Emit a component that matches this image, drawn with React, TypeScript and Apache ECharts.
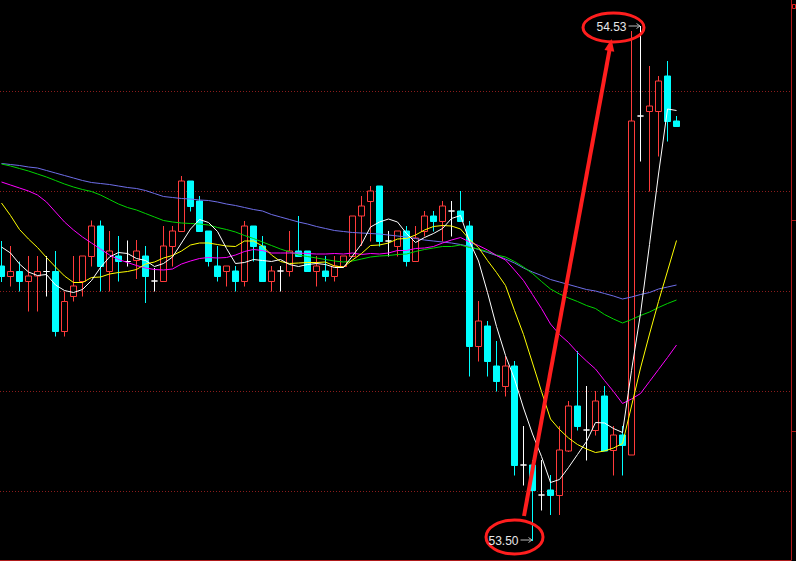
import React, { useEffect, useRef } from "react";
import * as echarts from "echarts";

// ---- data (prices) ----
const opens = [
  54.050, 54.029, 54.039, 54.019, 54.030, 54.039, 54.039, 53.919, 53.989, 54.019,
  54.069, 54.130, 54.039, 54.070, 54.059, 54.061, 54.070, 54.020, 54.019, 54.089,
  54.119, 54.220, 54.180, 54.120, 54.050, 54.039, 54.040, 54.019, 54.130, 54.090,
  54.019, 54.040, 54.039, 54.080, 54.080, 54.039, 54.040, 54.029, 54.049, 54.069,
  54.150, 54.179, 54.210, 54.100, 54.089, 54.120, 54.059, 54.119, 54.150, 54.139,
  54.160, 54.160, 54.130, 53.889, 53.930, 53.850, 53.809, 53.850, 53.652, 53.652,
  53.592, 53.602, 53.591, 53.680, 53.770, 53.722, 53.721, 53.790, 53.681, 53.712,
  53.672, 54.350, 54.359, 54.359, 54.430, 54.340,
];
const closes = [
  54.029, 54.039, 54.019, 54.030, 54.039, 54.039, 53.919, 53.979, 54.010, 54.070,
  54.130, 54.049, 54.080, 54.059, 54.059, 54.080, 54.029, 54.020, 54.090, 54.120,
  54.220, 54.169, 54.119, 54.059, 54.029, 54.050, 54.019, 54.130, 54.089, 54.019,
  54.040, 54.040, 54.080, 54.069, 54.039, 54.050, 54.029, 54.050, 54.070, 54.150,
  54.170, 54.200, 54.099, 54.100, 54.120, 54.059, 54.106, 54.150, 54.139, 54.170,
  54.160, 54.139, 53.889, 53.940, 53.859, 53.819, 53.850, 53.651, 53.652, 53.601,
  53.592, 53.591, 53.682, 53.770, 53.729, 53.722, 53.780, 53.680, 53.712, 53.691,
  54.340, 54.350, 54.370, 54.420, 54.339, 54.329,
];
const lows = [
  54.018, 54.009, 53.999, 53.959, 53.959, 53.989, 53.909, 53.909, 53.979, 53.989,
  54.049, 53.999, 53.999, 54.019, 54.049, 54.024, 53.976, 53.999, 54.019, 54.049,
  54.119, 54.159, 54.119, 54.049, 54.019, 54.009, 53.999, 54.009, 54.059, 54.019,
  53.999, 53.999, 54.029, 54.069, 54.039, 54.009, 54.019, 54.019, 54.049, 54.069,
  54.090, 54.099, 54.089, 54.069, 54.069, 54.049, 54.059, 54.109, 54.119, 54.099,
  54.109, 54.139, 53.829, 53.859, 53.829, 53.799, 53.789, 53.631, 53.611, 53.500,
  53.561, 53.552, 53.552, 53.678, 53.721, 53.661, 53.711, 53.680, 53.631, 53.631,
  53.672, 54.259, 54.199, 54.269, 54.299, 54.329,
];
const highs = [
  54.100, 54.090, 54.059, 54.070, 54.070, 54.070, 54.080, 53.999, 54.070, 54.070,
  54.141, 54.141, 54.120, 54.110, 54.101, 54.102, 54.090, 54.046, 54.130, 54.130,
  54.230, 54.220, 54.190, 54.120, 54.090, 54.050, 54.050, 54.140, 54.130, 54.110,
  54.050, 54.050, 54.120, 54.150, 54.080, 54.070, 54.070, 54.070, 54.070, 54.150,
  54.190, 54.210, 54.210, 54.120, 54.120, 54.130, 54.130, 54.160, 54.160, 54.180,
  54.180, 54.200, 54.140, 53.980, 53.940, 53.900, 53.870, 53.860, 53.730, 53.662,
  53.662, 53.632, 53.730, 53.780, 53.880, 53.810, 53.800, 53.810, 53.730, 53.730,
  54.520, 54.530, 54.450, 54.430, 54.460, 54.350,
];

const ma5 = [
  54.088, 54.076, 54.054, 54.038, 54.031, 54.033, 54.012, 54.001, 53.997, 54.003,
  54.021, 54.047, 54.068, 54.077, 54.075, 54.065, 54.061, 54.049, 54.055, 54.068,
  54.096, 54.124, 54.143, 54.137, 54.119, 54.085, 54.055, 54.057, 54.063, 54.061,
  54.059, 54.063, 54.053, 54.049, 54.053, 54.055, 54.053, 54.047, 54.047, 54.070,
  54.094, 54.128, 54.138, 54.144, 54.138, 54.115, 54.097, 54.107, 54.115, 54.125,
  54.145, 54.151, 54.099, 54.060, 53.997, 53.929, 53.871, 53.824, 53.766, 53.714,
  53.669, 53.617, 53.623, 53.647, 53.673, 53.699, 53.737, 53.736, 53.725, 53.717,
  53.841, 53.955, 54.093, 54.234, 54.364, 54.361,
];
const ma10 = [
  54.176, 54.151, 54.123, 54.104, 54.087, 54.067, 54.048, 54.030, 54.017, 54.017,
  54.027, 54.028, 54.034, 54.037, 54.039, 54.043, 54.054, 54.058, 54.066, 54.071,
  54.080, 54.092, 54.096, 54.096, 54.093, 54.090, 54.089, 54.100, 54.100, 54.090,
  54.072, 54.059, 54.055, 54.056, 54.057, 54.057, 54.058, 54.050, 54.048, 54.062,
  54.075, 54.091, 54.092, 54.096, 54.104, 54.105, 54.112, 54.122, 54.129, 54.131,
  54.130, 54.124, 54.103, 54.087, 54.061, 54.037, 54.011, 53.961, 53.913, 53.856,
  53.799, 53.744, 53.723, 53.706, 53.693, 53.684, 53.677, 53.680, 53.686, 53.695,
  53.770, 53.846, 53.914, 53.979, 54.040, 54.101,
];
const ma20 = [
  54.218, 54.212, 54.206, 54.200, 54.192, 54.178, 54.158, 54.138, 54.122, 54.108,
  54.096, 54.084, 54.072, 54.063, 54.057, 54.051, 54.046, 54.043, 54.042, 54.044,
  54.054, 54.060, 54.065, 54.067, 54.066, 54.067, 54.072, 54.079, 54.083, 54.081,
  54.076, 54.076, 54.076, 54.076, 54.075, 54.074, 54.074, 54.075, 54.074, 54.076,
  54.073, 54.075, 54.074, 54.076, 54.081, 54.081, 54.085, 54.086, 54.089, 54.096,
  54.102, 54.107, 54.098, 54.091, 54.082, 54.071, 54.062, 54.042, 54.021, 53.993,
  53.965, 53.934, 53.913, 53.897, 53.877, 53.860, 53.844, 53.821, 53.799, 53.775,
  53.784, 53.795, 53.819, 53.843, 53.867, 53.892,
];
const ma40 = [
  54.254, 54.250, 54.245, 54.240, 54.234, 54.228, 54.221, 54.214, 54.208, 54.203,
  54.199, 54.192, 54.183, 54.174, 54.167, 54.162, 54.155, 54.148, 54.141, 54.138,
  54.136, 54.135, 54.134, 54.132, 54.127, 54.123, 54.118, 54.111, 54.105, 54.098,
  54.091, 54.084, 54.078, 54.072, 54.069, 54.066, 54.063, 54.060, 54.058, 54.060,
  54.064, 54.068, 54.070, 54.071, 54.073, 54.074, 54.079, 54.083, 54.086, 54.089,
  54.089, 54.092, 54.087, 54.084, 54.079, 54.072, 54.068, 54.059, 54.048, 54.035,
  54.019, 54.004, 53.994, 53.986, 53.979, 53.971, 53.965, 53.953, 53.944, 53.936,
  53.943, 53.951, 53.958, 53.967, 53.975, 53.982,
];
const ma60 = [
  54.255, 54.253, 54.251, 54.248, 54.246, 54.241, 54.236, 54.231, 54.226, 54.221,
  54.217, 54.215, 54.213, 54.210, 54.207, 54.205, 54.201, 54.195, 54.189, 54.187,
  54.185, 54.184, 54.182, 54.181, 54.178, 54.174, 54.171, 54.167, 54.163, 54.160,
  54.153, 54.148, 54.143, 54.138, 54.134, 54.129, 54.125, 54.121, 54.119, 54.117,
  54.116, 54.115, 54.114, 54.112, 54.110, 54.108, 54.105, 54.102, 54.100, 54.098,
  54.096, 54.093, 54.089, 54.083, 54.077, 54.071, 54.064, 54.056, 54.046, 54.038,
  54.031, 54.023, 54.018, 54.013, 54.008, 54.003, 54.000, 53.995, 53.990, 53.984,
  53.988, 53.993, 53.997, 54.004, 54.008, 54.012,
];

// visible window
const xMin = -1 / 6;
const xMax = 87.72;
const yMin = 53.462;
const yMax = 54.582;

const UP = "#ff3b3b";
const DOWN = "#00ffff";
const DOJI = "#ffffff";
const FRAME = "#b01a1a";
const GRIDLINE = "#8a1c1c";
const MARK = "#ff1e1e";

export default function App() {
  const ref = useRef<HTMLDivElement>(null);

  useEffect(() => {
    if (!ref.current) return;
    const chart = echarts.init(ref.current, null, { renderer: "svg" });

    const candleData = opens.map((o, i) => {
      const item: any = { value: [i, o, closes[i], lows[i], highs[i]] };
      if (o === closes[i]) {
        item.itemStyle = {
          color: DOJI,
          color0: DOJI,
          borderColor: DOJI,
          borderColor0: DOJI,
          borderColorDoji: DOJI,
        };
      }
      return item;
    });

    const maLine = (arr: number[], color: string) => ({
      type: "line",
      data: arr.map((v, i) => [i, v]),
      showSymbol: false,
      symbol: "none",
      silent: true,
      clip: true,
      lineStyle: { color, width: 1 },
      itemStyle: { color },
    });

    chart.setOption({
      animation: false,
      backgroundColor: "#000000",
      grid: { left: 0, right: 5, top: 0, bottom: 1, containLabel: false },
      xAxis: {
        type: "value",
        min: xMin,
        max: xMax,
        axisLine: { show: true, onZero: false, lineStyle: { color: FRAME, width: 1 } },
        axisTick: { show: false },
        axisLabel: { show: false },
        splitLine: { show: false },
      },
      yAxis: {
        type: "value",
        position: "right",
        min: yMin,
        max: yMax,
        scale: true,
        axisLine: { show: true, onZero: false, lineStyle: { color: FRAME, width: 1 } },
        axisTick: { show: false },
        axisLabel: { show: false },
        splitLine: {
          show: true,
          showMinLine: false,
          showMaxLine: false,
          lineStyle: { color: GRIDLINE, type: [1, 2], width: 1 },
        },
      },
      series: [
        {
          type: "candlestick",
          data: candleData,
          encode: { x: 0, y: [1, 2, 3, 4] },
          barWidth: 6,
          clip: true,
          silent: true,
          itemStyle: {
            color: "#000000",
            color0: DOWN,
            borderColor: UP,
            borderColor0: DOWN,
            borderColorDoji: DOJI,
            borderWidth: 1,
          },
        },
        maLine(ma60, "#6e6ee8"),
        maLine(ma40, "#00d400"),
        maLine(ma20, "#ff00ff"),
        maLine(ma10, "#ffff00"),
        maLine(ma5, "#ffffff"),
      ],
    });

    // annotation anchored to the extreme candles
    const hi = Math.max(...highs);
    const lo = Math.min(...lows);
    const hiIdx = highs.indexOf(hi);
    const loIdx = lows.indexOf(lo);
    const hp = chart.convertToPixel({ gridIndex: 0 }, [hiIdx, hi]) as number[];
    const lp = chart.convertToPixel({ gridIndex: 0 }, [loIdx, lo]) as number[];

    const sx = lp[0] - 8.5, sy = lp[1] - 25;
    const tx = hp[0] - 29, ty = hp[1] + 13;
    const dx = tx - sx, dy = ty - sy;
    const len = Math.sqrt(dx * dx + dy * dy);
    const ux = dx / len, uy = dy / len;
    const px = -uy, py = ux;
    const headLen = 12, headHalf = 5;
    const bx = tx - ux * headLen, by = ty - uy * headLen;

    const smallArrow = (x: number, y: number) => [
      {
        type: "line",
        shape: { x1: x - 12, y1: y, x2: x - 0.5, y2: y },
        style: { stroke: "#b8b8b8", lineWidth: 1 },
        z: 100,
      },
      {
        type: "polyline",
        shape: { points: [[x - 4, y - 2.5], [x - 0.5, y], [x - 4, y + 2.5]] },
        style: { stroke: "#b8b8b8", lineWidth: 1, fill: "none" },
        z: 100,
      },
    ];

    chart.setOption({
      graphic: [
        // red arrow
        {
          type: "line",
          shape: { x1: sx, y1: sy, x2: bx + ux * 2, y2: by + uy * 2 },
          style: { stroke: MARK, lineWidth: 4 },
          z: 100,
        },
        {
          type: "polygon",
          shape: {
            points: [
              [tx, ty],
              [bx + px * headHalf, by + py * headHalf],
              [bx - px * headHalf, by - py * headHalf],
            ],
          },
          style: { fill: MARK },
          z: 100,
        },
        // top label
        {
          type: "ellipse",
          shape: { cx: hp[0] - 27, cy: hp[1] + 1.5, rx: 30.5, ry: 14.5 },
          style: { fill: "none", stroke: MARK, lineWidth: 3 },
          z: 100,
        },
        {
          type: "text",
          style: {
            text: hi.toFixed(2),
            x: hp[0] - 14,
            y: hp[1] + 0.5,
            align: "right",
            verticalAlign: "middle",
            fill: "#e8e8e8",
            font: "12px Arial, 'Liberation Sans', sans-serif",
          },
          z: 101,
        },
        ...smallArrow(hp[0], hp[1]),
        // bottom label
        {
          type: "ellipse",
          shape: { cx: lp[0] - 18, cy: lp[1] - 4, rx: 28.5, ry: 17 },
          style: { fill: "none", stroke: MARK, lineWidth: 3 },
          z: 100,
        },
        {
          type: "text",
          style: {
            text: lo.toFixed(2),
            x: lp[0] - 14,
            y: lp[1] - 0.5,
            align: "right",
            verticalAlign: "middle",
            fill: "#e8e8e8",
            font: "12px Arial, 'Liberation Sans', sans-serif",
          },
          z: 101,
        },
        ...smallArrow(lp[0], lp[1] - 1),
        // right frame ticks and marker
        {
          type: "line",
          shape: { x1: 791, y1: 220.5, x2: 796, y2: 220.5 },
          style: { stroke: FRAME, lineWidth: 1 },
          z: 100,
        },
        {
          type: "line",
          shape: { x1: 791, y1: 431.5, x2: 796, y2: 431.5 },
          style: { stroke: FRAME, lineWidth: 1 },
          z: 100,
        },
        {
          type: "rect",
          shape: { x: 792.5, y: 4.5, width: 3, height: 4 },
          style: { fill: "none", stroke: "#e02020", lineWidth: 1 },
          z: 100,
        },
      ],
    });

    return () => chart.dispose();
  }, []);

  return (
    <div
      ref={ref}
      style={{
        position: "absolute",
        left: 0,
        top: 0,
        width: 796,
        height: 561,
        background: "#000",
      }}
    />
  );
}
